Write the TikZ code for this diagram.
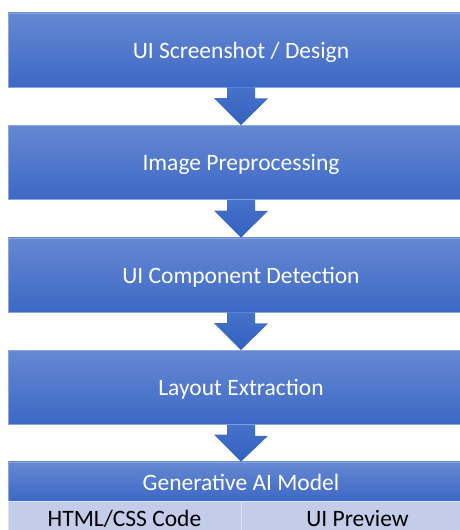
\documentclass[tikz,border=0pt]{standalone}
\usepackage{fontspec}
\setmainfont{Carlito}
\definecolor{boxtop}{HTML}{6688D2}
\definecolor{boxbot}{HTML}{3C69C6}
\definecolor{boxedge}{HTML}{8DA5DD}
\definecolor{arrtop}{HTML}{4572CA}
\definecolor{arrbot}{HTML}{3361BF}
\definecolor{cellfill}{HTML}{C3CCE8}
\definecolor{celledge}{HTML}{DCE2F3}
\begin{document}
\begin{tikzpicture}[x=1pt,y=1pt,
  stage/.style={rectangle, minimum width=466pt, minimum height=74pt,
    top color=boxtop, bottom color=boxbot, draw=boxedge, line width=0.8pt,
    text=white, font=\fontsize{23.5}{28}\selectfont, inner sep=0pt,
    text height=17pt, text depth=0pt},
  header/.style={stage, minimum height=39pt, text height=19pt},
  cell/.style={rectangle, minimum width=233pt, minimum height=29pt,
    fill=cellfill, draw=celledge, line width=0.8pt, text=black,
    font=\fontsize{23.5}{28}\selectfont, inner sep=0pt,
    text height=21pt, text depth=0pt},
  blockarrow/.style={top color=arrtop, bottom color=arrbot, draw=none}]
\useasboundingbox (0,0) rectangle (460,530);
\node[stage] (b1) at (241,480) {UI Screenshot / Design};
\node[stage] (b2) at (241,367.5) {Image Preprocessing};
\node[stage] (b3) at (241,255) {UI Component Detection};
\node[stage] (b4) at (241,142.5) {Layout Extraction};
\node[header] (gen) at (241,48.5) {Generative AI Model};
\node[cell] (code) at (124.5,14.5) {HTML/CSS Code};
\node[cell] (prev) at (357.5,14.5) {UI Preview};
\foreach \a/\b in {b1/b2,b2/b3,b3/b4,b4/gen}{
  \path[blockarrow] ([xshift=-14pt]\a.south) -- ([xshift=14pt]\a.south)
    -- ++(0,-11) -- ++(13,0) -- (\b.north) -- ++(-27,27) -- ++(13,0) -- cycle;
}
\end{tikzpicture}
\end{document}
